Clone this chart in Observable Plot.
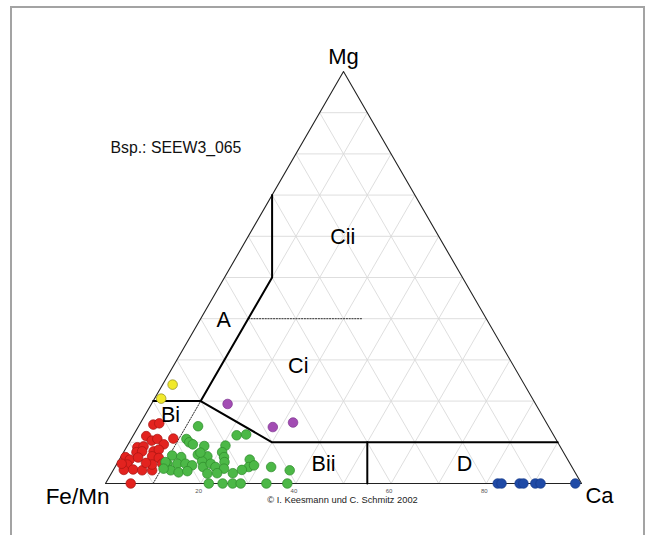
<!DOCTYPE html>
<html><head><meta charset="utf-8">
<script src="https://cdn.jsdelivr.net/npm/d3@7"></script>
<script src="https://cdn.jsdelivr.net/npm/@observablehq/plot@0.6"></script>
<style>
html,body{margin:0;padding:0;overflow:hidden;background:#fff;}
#wrap{position:relative;width:649px;height:535px;}
#wrap svg{position:absolute;left:0;top:0;}
#frame{position:absolute;left:10px;top:6px;width:631px;height:600px;border:2px solid #a3a3a3;border-bottom:none;pointer-events:none;}
</style></head>
<body><div id="wrap"></div>
<script>
// ternary data: [Ca %, Mg %]  (Fe/Mn = 100 - Ca - Mg)
const gridTicks = [10, 20, 30, 40, 50, 60, 70, 80, 90];
const axisTicks = [20, 40, 60, 80];

const redPts = [[2.9,14.3],[4.0,14.6],[2.8,11.5],[4.5,10.4],[5.5,10.8],[7.5,9.5],[8.8,10.9],[2.3,8.8],[3.5,9.0],[2.7,7.6],[3.8,7.8],[6.2,7.8],[7.1,8.2],[6.5,6.6],[8.1,6.2],[1.0,6.4],[2.2,5.8],[3.7,6.3],[2.3,4.6],[2.2,3.3],[4.1,3.4],[6.1,3.2],[8.2,3.2],[7.5,4.6],[9.5,4.8],[6.0,5.0],[1.0,4.8],[5.3,0]];
const greenPts = [[12.5,13.9],[11.6,10.8],[12.6,10.0],[13.6,9.5],[16.2,9.1],[20.6,9.2],[21.7,11.7],[23.6,11.9],[10.6,6.8],[12.7,6.4],[15.9,7.0],[18.1,6.6],[20.7,7.6],[21.7,6.4],[10.6,4.8],[12.7,4.8],[14.4,4.8],[16.0,4.4],[17.6,5.4],[18.5,4.0],[19.7,4.8],[21.1,4.0],[22.4,5.2],[23.1,3.6],[27.4,5.8],[28.1,4.0],[27.0,3.3],[12.1,3.2],[14.0,2.7],[15.7,3.0],[20.2,2.4],[22.2,2.5],[25.5,2.5],[21.7,0],[24.6,0],[26.7,0],[28.4,0],[33.8,0],[38.2,0],[29.0,4.4],[32.8,4.0],[37.1,3.2],[16.2,7.5],[10.0,5.2],[10.4,3.6]];
const purplePts = [[16.0,19.3],[28.3,13.7],[32.0,14.8]];
const yellowPts = [[2.1,24.0],[1.4,20.6]];
const bluePts = [[82.4,0],[83.2,0],[87.0,0],[87.8,0],[90.3,0],[91.4,0],[98.7,0]];

const outline = [[0,0],[100,0],[0,100],[0,0]];
const boundaries = [
  [[0,20],[10,20],[10,50],[0,70]],
  [[10,20],[30,10],[90,10]],
  [[50,10],[55,0]]
];
const dottedLines = [
  [[10,0],[10,20]],
  [[10,40],[34,40]]
];
const regionNames = ["Cii", "A", "Ci", "Bi", "Bii", "D"];
const regionCa = [20, 5.0, 26.3, 5.4, 43.5, 73.1];
const regionMg = [59.7, 39.6, 28.4, 16.5, 4.6, 4.6];

const S3 = Math.sqrt(3) / 2;
const X = (p) => p[0] + p[1] / 2;
const Y = (p) => p[1] * S3;

const gridSegs = [];
for (const t of gridTicks) {
  gridSegs.push([[0, t], [100 - t, t]]);
  gridSegs.push([[t, 0], [t, 100 - t]]);
  gridSegs.push([[100 - t, 0], [0, 100 - t]]);
}
const flat = (lines) => lines.flatMap((l, i) => l.map(p => ({p, id: i})));
const regions = regionNames.map((n, i) => ({n, p: [regionCa[i], regionMg[i]]}));
const FONT = "Liberation Sans, Arial, Helvetica, sans-serif";

const dotOpts = (fill, stroke) => ({x: X, y: Y, r: 4.8, fill, stroke, strokeWidth: 0.7});

const chart = Plot.plot({
  width: 649, height: 535, margin: 0,
  x: {domain: [0, 100], range: [105, 581], axis: null},
  y: {domain: [0, 100 * S3], range: [483, 71], axis: null},
  style: {fontFamily: FONT, background: "transparent"},
  marks: [
    Plot.link(gridSegs, {x1: d => X(d[0]), y1: d => Y(d[0]), x2: d => X(d[1]), y2: d => Y(d[1]), stroke: "#dadada", strokeWidth: 0.9}),
    Plot.line(outline, {x: X, y: Y, stroke: "#222", strokeWidth: 1.1}),
    Plot.line(flat(dottedLines), {x: d => X(d.p), y: d => Y(d.p), z: "id", stroke: "#333", strokeWidth: 1, strokeDasharray: "1.2,1.6"}),
    Plot.line(flat(boundaries), {x: d => X(d.p), y: d => Y(d.p), z: "id", stroke: "#000", strokeWidth: 2, strokeLinejoin: "miter"}),
    Plot.dot(redPts, dotOpts("#e3231f", "#a81612")),
    Plot.dot(greenPts, dotOpts("#4cb847", "#2c8a2a")),
    Plot.dot(purplePts, dotOpts("#a24cb3", "#7e3590")),
    Plot.dot(yellowPts, dotOpts("#f1e92b", "#8d8a22")),
    Plot.dot(bluePts, dotOpts("#1f4aa6", "#163a88")),
    Plot.text(regions, {x: d => X(d.p), y: d => Y(d.p), text: "n", fontSize: 21.5, fill: "#000", lineAnchor: "middle"}),
    Plot.text(axisTicks, {x: d => d, y: 0, text: d => String(d), dx: -2, dy: 9, fontSize: 6, fill: "#555", lineAnchor: "bottom"}),
    Plot.text(["Mg"], {x: 50, y: 100 * S3, dy: -8, fontSize: 22, fill: "#000", lineAnchor: "bottom"}),
    Plot.text(["Fe/Mn"], {x: 0, y: 0, dx: -28, dy: 20, fontSize: 22.5, fill: "#000", lineAnchor: "bottom"}),
    Plot.text(["Ca"], {x: 100, y: 0, dx: 18, dy: 19, fontSize: 22, fill: "#000", lineAnchor: "bottom"}),
    Plot.text(["Bsp.: SEEW3_065"], {x: 0, y: 0, dx: 5, dy: -331, fontSize: 15.8, fill: "#111", textAnchor: "start", lineAnchor: "bottom"}),
    Plot.text(["© I. Keesmann und C. Schmitz 2002"], {x: 50, y: 0, dx: -1, dy: 19, fontSize: 9.3, fill: "#222", lineAnchor: "bottom"})
  ]
});
const wrap = document.getElementById("wrap");
wrap.appendChild(chart);
const frame = document.createElement("div");
frame.id = "frame";
wrap.appendChild(frame);
</script>
</body></html>
